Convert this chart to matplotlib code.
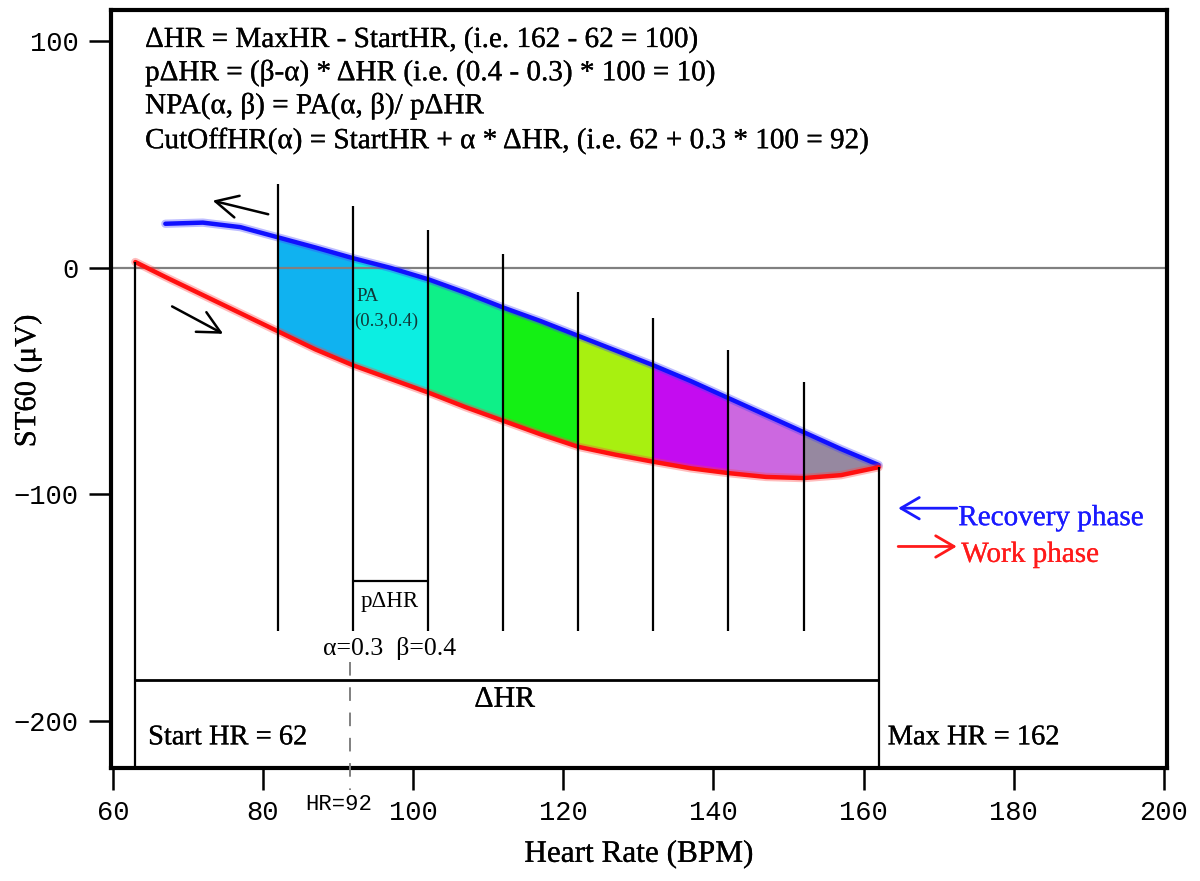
import numpy as np
import matplotlib.pyplot as plt
import matplotlib.patheffects as pe

# recovery phase (blue) and work phase (red) ST60 vs heart rate
recovery_hr = [67, 72, 77, 82, 87, 92, 97, 102, 107, 112, 117, 122, 127, 132, 137, 142, 147, 152, 157, 162]
recovery_st = [19.5, 20, 18, 13.5, 9, 4.3, 0, -5, -11, -17.5, -23.5, -30, -36.5, -43, -50, -57.5,
               -65, -72.5, -80, -87]
work_hr = [63, 67, 72, 77, 82, 87, 92, 97, 102, 107, 112, 117, 122, 127, 132, 137, 142, 147, 152, 157, 162]
work_st = [2.6, -4, -12, -20, -28, -36, -43, -49, -55, -61.5, -67.5, -73.5, -79, -82.5, -85.6, -88.5,
           -90.6, -92.3, -92.8, -91.5, -88]

# cut-off heart rates (alpha = 0.2 ... 0.9) and the top of each marker line
cutoff_hr = [82, 92, 102, 112, 122, 132, 142, 152]
cutoff_top = [37, 27.4, 16.8, 6.2, -10.5, -22.2, -36.2, -50.5]
cutoff_bottom = -160.5

band_colors = ['#10b2f0', '#0ceee2', '#0ef088', '#14f014', '#a8f010', '#c40cf0', '#cc68e0', '#9688a0']

start_hr = 62
max_hr = 162
start_line_x = 63
xticks = [60, 80, 100, 120, 140, 160, 180, 200]
yticks = [100, 0, -100, -200]

serif = 'Liberation Serif'
mono = 'Liberation Mono'


def heavy(color='black'):
    # slight stroke so the serif text looks as dark as the original
    return [pe.withStroke(linewidth=0.2, foreground=color)]


def main():
    fig = plt.figure(figsize=(12, 8.81), dpi=100)
    ax = fig.add_axes([0.0923, 0.1283, 0.8802, 0.8609])
    ax.set_xlim(59.73, 200.4)
    ax.set_ylim(-220.8, 114.1)

    rhr = np.array(recovery_hr)
    rst = np.array(recovery_st)
    whr = np.array(work_hr)
    wst = np.array(work_st)

    # coloured partial areas between the two curves
    bounds = cutoff_hr + [max_hr]
    for i in range(len(cutoff_hr)):
        lo, hi = bounds[i], bounds[i + 1]
        mr = (rhr >= lo) & (rhr <= hi)
        mw = (whr >= lo) & (whr <= hi)
        ax.fill_between(rhr[mr], wst[mw], rst[mr], color=band_colors[i], lw=0, zorder=1)

    ax.axhline(0, color='#808080', lw=1.6, zorder=2)

    # curves, with a soft halo like the original
    ax.plot(rhr, rst, color='#4040ff', lw=6, alpha=0.35, zorder=4, solid_capstyle='round')
    ax.plot(rhr, rst, color='#1010ff', lw=3.2, zorder=4, solid_capstyle='round')
    ax.plot(whr, wst, color='#ff4040', lw=6, alpha=0.35, zorder=4, solid_capstyle='round')
    ax.plot(whr, wst, color='#ff1010', lw=3.2, zorder=4, solid_capstyle='round')

    # cut-off marker lines
    ax.vlines(cutoff_hr, cutoff_bottom, cutoff_top, color='black', lw=1.6, zorder=5)
    ax.vlines([start_line_x], -220.8, work_st[0], color='black', lw=1.6, zorder=5)
    ax.vlines([max_hr], -220.8, work_st[-1], color='black', lw=1.6, zorder=5)

    # pdHR bracket
    ax.hlines(-138.2, 92, 102, color='black', lw=1.6, zorder=5)
    ax.text(96.9, -147.3, 'p\u0394HR', family=serif, fontsize=16.5, ha='center', va='center')
    ax.text(96.8, -168.2, '\u03b1=0.3  \u03b2=0.4', family=serif, fontsize=18.5, ha='center', va='center')

    # dHR bar
    ax.hlines(-181.9, start_line_x, max_hr, color='black', lw=2, zorder=5)
    ax.text(112.2, -190.7, '\u0394HR', family=serif, fontsize=21.5, ha='center', va='center',
            path_effects=heavy())
    ax.text(64.7, -207.5, 'Start HR = %d' % start_hr, family=serif, fontsize=20.5, ha='left', va='center',
            path_effects=heavy())
    ax.text(163.2, -207.5, 'Max HR = %d' % max_hr, family=serif, fontsize=20.5, ha='left', va='center',
            path_effects=heavy())

    # dashed HR=92 line
    ax.plot([91.6, 91.6], [-174, -230.5], color='#808080', lw=1.4, ls=(0, (7, 6)), clip_on=False, zorder=5)
    ax.text(90.1, -237, 'HR=92', family=mono, fontsize=16, ha='center', va='center', clip_on=False)

    ax.text(92.4, -12.5, 'PA', family=serif, fontsize=13.5, color='#103838', ha='left', va='center')
    ax.text(92.2, -23.5, '(0.3,0.4)', family=serif, fontsize=13.5, color='#103838', ha='left', va='center')

    # direction arrows
    ax.annotate('', xy=(73.3, 29.7), xytext=(80.7, 23.7),
                arrowprops=dict(arrowstyle='->,head_length=0.8,head_width=0.4', color='black', lw=1.8,
                                mutation_scale=20, shrinkA=0, shrinkB=0))
    ax.annotate('', xy=(74.7, -29.1), xytext=(67.9, -17),
                arrowprops=dict(arrowstyle='->,head_length=0.8,head_width=0.4', color='black', lw=1.8,
                                mutation_scale=20, shrinkA=0, shrinkB=0))

    # legend
    ax.annotate('', xy=(164.6, -106.1), xytext=(172.4, -106.1),
                arrowprops=dict(arrowstyle='->,head_length=0.6,head_width=0.35', color='#1a1aff', lw=2,
                                mutation_scale=22, shrinkA=0, shrinkB=0))
    ax.annotate('', xy=(172.4, -123), xytext=(164.6, -123),
                arrowprops=dict(arrowstyle='->,head_length=0.6,head_width=0.35', color='#ff1a1a', lw=2,
                                mutation_scale=22, shrinkA=0, shrinkB=0))
    ax.text(172.6, -110.5, 'Recovery phase', family=serif, fontsize=21, color='#1a1aff', ha='left', va='center',
            path_effects=heavy('#1a1aff'))
    ax.text(173.0, -126.7, 'Work phase', family=serif, fontsize=21, color='#ff1a1a', ha='left', va='center',
            path_effects=heavy('#ff1a1a'))

    # formulas
    lines = ['\u0394HR = MaxHR - StartHR, (i.e. 162 - 62 = 100)',
             'p\u0394HR = (\u03b2-\u03b1) * \u0394HR (i.e. (0.4 - 0.3) * 100 = 10)',
             'NPA(\u03b1, \u03b2) = PA(\u03b1, \u03b2)/ p\u0394HR',
             'CutOffHR(\u03b1) = StartHR + \u03b1 * \u0394HR, (i.e. 62 + 0.3 * 100 = 92)']
    for yy, s in zip([100.7, 86.1, 71.5, 56.1], lines):
        ax.text(64.3, yy, s, family=serif, fontsize=21, ha='left', va='center', path_effects=heavy())

    ax.set_xticks(xticks)
    ax.set_yticks(yticks)
    ax.tick_params(direction='out', length=16, width=1.8, pad=7, labelsize=19.5)
    for lab in ax.get_xticklabels() + ax.get_yticklabels():
        lab.set_family(mono)
    for sp in ax.spines.values():
        sp.set_linewidth(3)

    ax.set_xlabel('Heart Rate (BPM)', family=serif, fontsize=22.5, labelpad=10, path_effects=heavy())
    ax.set_ylabel('ST60 (\u03bcV)', family=serif, fontsize=22, path_effects=heavy())
    ax.yaxis.set_label_coords(-0.065, 0.51)

    plt.savefig('out.png', dpi=100)


if __name__ == '__main__':
    main()
